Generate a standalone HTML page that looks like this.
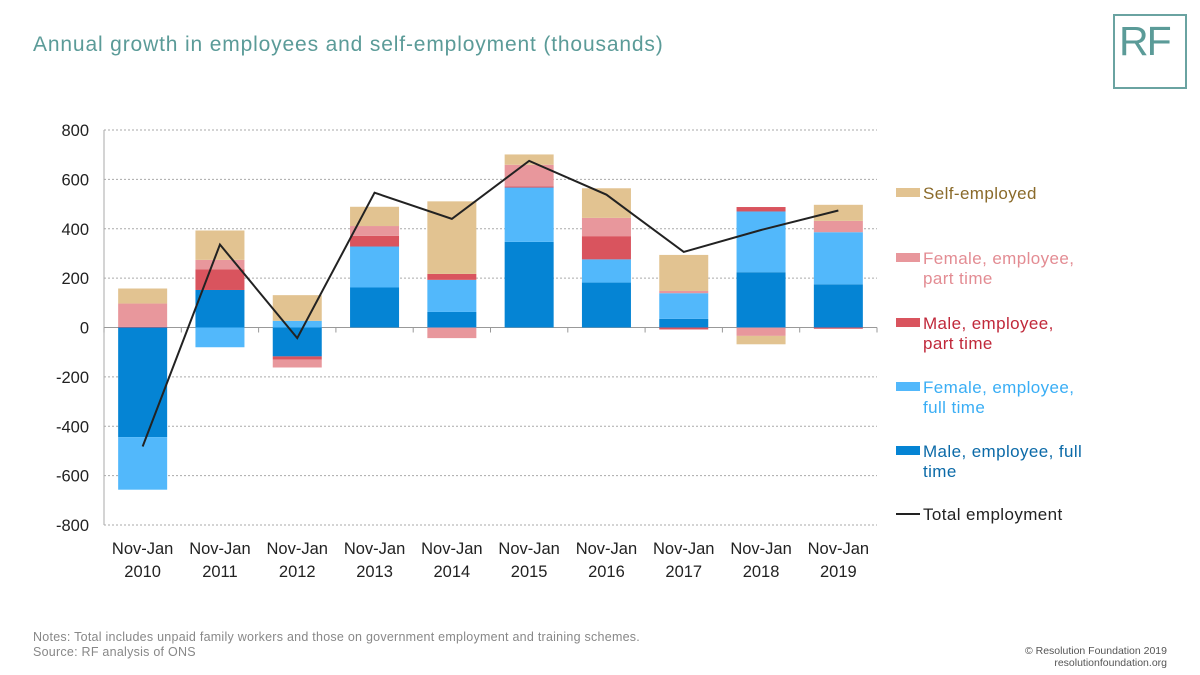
<!DOCTYPE html>
<html><head><meta charset="utf-8"><style>
body{margin:0;width:1200px;height:675px;background:#fff;font-family:"Liberation Sans",sans-serif;overflow:hidden;position:relative}
.t{position:absolute;white-space:nowrap}
</style></head><body>
<div class="t" style="left:33px;top:33px;font-size:21px;color:#5b9b98;letter-spacing:0.85px">Annual growth in employees and self-employment (thousands)</div>
<div style="position:absolute;left:1113px;top:14px;width:70px;height:71px;border:2px solid #6aa3a1"><div style="position:absolute;left:4px;top:2px;font-size:41px;color:#5b9b98;letter-spacing:-2px">RF</div></div>
<svg id="c" width="1200" height="675" style="position:absolute;left:0;top:0"></svg>
<div class="t" style="left:33px;top:630px;font-size:12.5px;color:#888;line-height:15px;letter-spacing:0.25px">Notes: Total includes unpaid family workers and those on government employment and training schemes.<br>Source: RF analysis of ONS</div>
<div class="t" style="right:33px;top:645px;font-size:10.5px;color:#555;text-align:right;line-height:12px">© Resolution Foundation 2019<br>resolutionfoundation.org</div>
<script>
const categories=["Nov-Jan|2010","Nov-Jan|2011","Nov-Jan|2012","Nov-Jan|2013","Nov-Jan|2014","Nov-Jan|2015","Nov-Jan|2016","Nov-Jan|2017","Nov-Jan|2018","Nov-Jan|2019"];
const maleFT=[-444,152,-117,162,63,347,182,35,224,175];
const femaleFT=[-213,-80,27,166,130,220,94,104,246,211];
const malePT=[3,84,-13,43,24,4,94,-8,18,-5];
const femalePT=[94,38,-32,40,-43,88,74,9,-34,46];
const selfEmp=[61,119,104,78,294,42,120,146,-34,65];
const total=[-482,336,-43,546,440,675,538,306,395,474];
const yTicks=[800,600,400,200,0,-200,-400,-600,-800];
const seriesNames=["Male, employee, full time","Female, employee, full time","Male, employee, part time","Female, employee, part time","Self-employed"];
const NS="http://www.w3.org/2000/svg";
const svg=document.getElementById('c');
const X0=104,X1=877,Y0=327.5,K=395/1600;
const cw=(X1-X0)/categories.length;
const y=v=>Y0-v*K;
const xc=i=>X0+cw*(i+0.5);
function el(t,a){const e=document.createElementNS(NS,t);for(const k in a)e.setAttribute(k,a[k]);svg.appendChild(e);return e;}
yTicks.forEach(v=>{
 const g=el('line',{x1:X0,x2:X1,y1:y(v),y2:y(v),stroke:v===0?'#999':'#aaa','stroke-dasharray':v===0?'':'2,2','stroke-width':1});
 
 
 const t=el('text',{x:89,y:y(v)+6,'text-anchor':'end','font-size':16.5,fill:'#222'});t.textContent=v;
 
 
});
const ax=el('line',{x1:X0,x2:X0,y1:y(800),y2:y(-800),stroke:'#aaa'});


for(let i=0;i<=categories.length;i++){const tk=el('line',{x1:X0+cw*i,x2:X0+cw*i,y1:Y0,y2:Y0+5,stroke:'#999'});
 
 }
const series=[maleFT,femaleFT,malePT,femalePT,selfEmp];
const colors=['#0584d4','#52b8fb','#d9545e','#e8979c','#e2c391'];
const bw=49;
categories.forEach((c,i)=>{
 let pos=0,neg=0;
 series.forEach((s,j)=>{
  const v=s[i];let top,bot;
  if(v>=0){bot=pos;pos+=v;top=pos;}else{top=neg;neg+=v;bot=neg;}
  const r=el('rect',{x:xc(i)-bw/2,y:y(top),width:bw,height:Math.abs(y(bot)-y(top)),fill:colors[j]});
  
  
 });
 const p=c.split('|');
 p.forEach((s,k)=>{const t=el('text',{x:xc(i),y:554+k*23,'text-anchor':'middle','font-size':16.5,fill:'#222'});t.textContent=s;
  
  });
});
const ln=el('polyline',{points:total.map((v,i)=>xc(i)+','+y(v)).join(' '),fill:'none',stroke:'#222','stroke-width':2});


const legend=[["Self-employed","",'#e2c391','#8a6a2a',193],["Female, employee,","part time",'#e8979c','#e38c93',258],["Male, employee,","part time",'#d9545e','#c0283a',323],["Female, employee,","full time",'#52b8fb','#3aaef5',387],["Male, employee, full","time",'#0584d4','#0b6aa8',451]];
legend.forEach(L=>{
 const r=el('rect',{x:896,y:L[4]-5,width:24,height:9,fill:L[2]});
 
 
 [L[0],L[1]].forEach((s,k)=>{if(!s)return;const t=el('text',{x:923,y:L[4]+6+k*20,'font-size':17,fill:L[3],'letter-spacing':0.4});t.textContent=s;
  
  });
});
const ll=el('line',{x1:896,x2:920,y1:514,y2:514,stroke:'#222','stroke-width':2});


const lt=el('text',{x:923,y:520,'font-size':17,fill:'#222','letter-spacing':0.4});lt.textContent='Total employment';


</script>
</body></html>
